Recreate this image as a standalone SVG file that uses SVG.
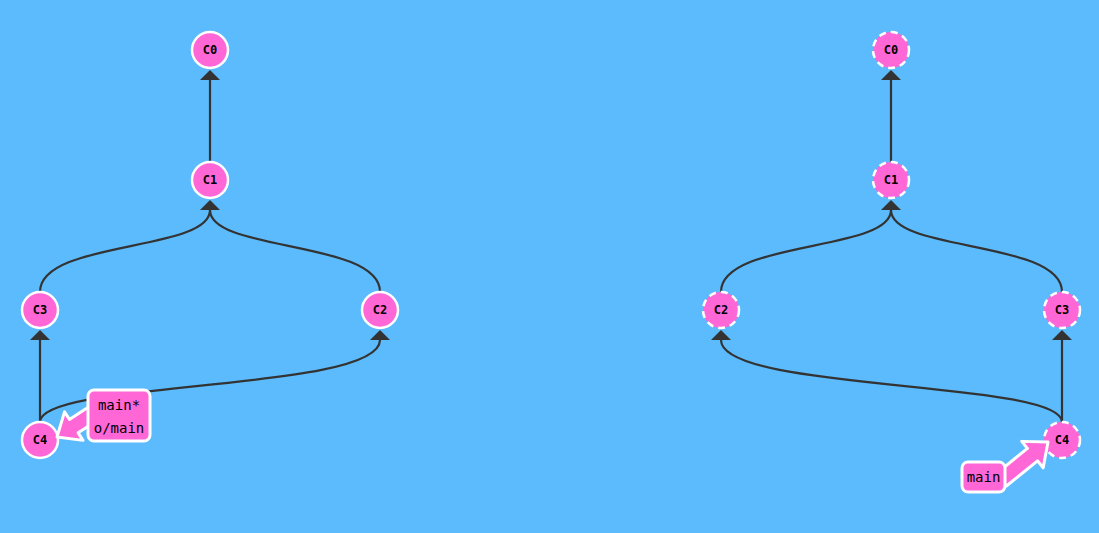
<svg xmlns="http://www.w3.org/2000/svg" width="1099" height="533" viewBox="0 0 1099 533">
<defs>
<style>
.edge{fill:none;stroke:#333;stroke-width:2.2}
.head{fill:#333}
.node circle{fill:#ff66d6;stroke:#fff;stroke-width:2.5}
.node.dash circle{stroke-dasharray:7 5}
.node text{font-family:"DejaVu Sans Mono",monospace;font-size:12px;font-weight:bold;fill:#000;text-anchor:middle}
.lbl rect,.lbl polygon{fill:#ff66d6;stroke:#fff;stroke-width:3;stroke-linejoin:round}
.lbl text{font-family:"DejaVu Sans Mono",monospace;font-size:14px;fill:#000;text-anchor:middle}
</style>
</defs>
<rect width="1099" height="533" fill="#5cbbfc"/>
<g id="connectors">
<path class="edge" d="M210,162 L210,80"/>
<path class="head" d="M210,70 L220,80 L200,80 Z"/>
<path class="edge" d="M40,292 C40,240 210,252 210,210"/>
<path class="edge" d="M380,292 C380,240 210,252 210,210"/>
<path class="head" d="M210,200 L220,210 L200,210 Z"/>
<path class="edge" d="M40,422 L40,340"/>
<path class="head" d="M40,330 L50,340 L30,340 Z"/>
<path class="edge" d="M40,422 C40,380 380,392 380,340"/>
<path class="head" d="M380,330 L390,340 L370,340 Z"/>
<path class="edge" d="M891,162 L891,80"/>
<path class="head" d="M891,70 L901,80 L881,80 Z"/>
<path class="edge" d="M721,292 C721,240 891,252 891,210"/>
<path class="edge" d="M1062,292 C1062,240 891,252 891,210"/>
<path class="head" d="M891,200 L901,210 L881,210 Z"/>
<path class="edge" d="M1062,422 L1062,340"/>
<path class="head" d="M1062,330 L1072,340 L1052,340 Z"/>
<path class="edge" d="M1062,422 C1062,380 721,392 721,340"/>
<path class="head" d="M721,330 L731,340 L711,340 Z"/>
</g>
<g id="c0-left" class="node"><circle cx="210" cy="50" r="18"/><text x="210" y="54">C0</text></g>
<g id="c1-left" class="node"><circle cx="210" cy="180" r="18"/><text x="210" y="184">C1</text></g>
<g id="c3-left" class="node"><circle cx="40" cy="310" r="18"/><text x="40" y="314">C3</text></g>
<g id="c2-left" class="node"><circle cx="380" cy="310" r="18"/><text x="380" y="314">C2</text></g>
<g id="c4-left" class="node"><circle cx="40" cy="440" r="18"/><text x="40" y="444">C4</text></g>
<g id="c0-right" class="node dash"><circle cx="891" cy="50" r="18"/><text x="891" y="54">C0</text></g>
<g id="c1-right" class="node dash"><circle cx="891" cy="180" r="18"/><text x="891" y="184">C1</text></g>
<g id="c2-right" class="node dash"><circle cx="721" cy="310" r="18"/><text x="721" y="314">C2</text></g>
<g id="c3-right" class="node dash"><circle cx="1062" cy="310" r="18"/><text x="1062" y="314">C3</text></g>
<g id="c4-right" class="node dash"><circle cx="1062" cy="440" r="18"/><text x="1062" y="444">C4</text></g>
<g id="label-left" class="lbl">
<polygon transform="translate(57,437) rotate(147)" points="0,0 -20,-17 -20,-8 -46,-8 -46,8 -20,8 -20,17"/>
<rect x="88" y="390" width="62" height="51" rx="6"/>
<text x="119" y="410">main*</text>
<text x="119" y="433">o/main</text>
</g>
<g id="label-right" class="lbl">
<polygon transform="translate(1048,442) rotate(-39)" points="0,0 -20,-17 -20,-8 -60,-8 -60,8 -20,8 -20,17"/>
<rect x="962" y="462" width="43" height="30" rx="6"/>
<text x="983.5" y="482">main</text>
</g>
</svg>
